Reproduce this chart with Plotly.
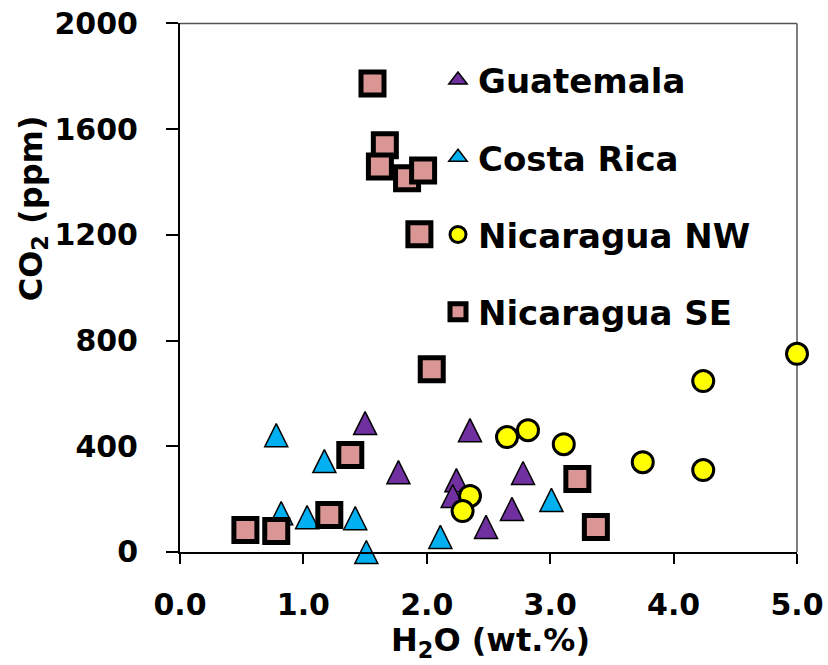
import plotly.graph_objects as go

# ---- data ----
gt_h2o = [1.50, 1.77, 2.35, 2.78, 2.24, 2.21, 2.69, 2.48]
gt_co2 = [488, 302, 461, 299, 272, 212, 163, 95]

cr_h2o = [0.78, 1.17, 0.82, 1.03, 1.42, 1.51, 2.11, 3.01]
cr_co2 = [442, 344, 147, 132, 128, 0, 57, 197]

nw_h2o = [2.65, 2.82, 3.11, 2.35, 2.29, 3.75, 4.24, 4.24, 5.00]
nw_co2 = [435, 461, 408, 212, 155, 340, 647, 310, 750]

se_h2o = [1.56, 1.66, 1.62, 1.84, 1.97, 1.94, 2.04, 1.38, 1.21, 0.53, 0.78, 3.22, 3.37]
se_co2 = [1773, 1539, 1459, 1414, 1444, 1202, 692, 367, 140, 83, 79, 276, 95]

x_ticks = [0, 1, 2, 3, 4, 5]
x_tick_labels = ["0.0", "1.0", "2.0", "3.0", "4.0", "5.0"]
y_ticks = [0, 400, 800, 1200, 1600, 2000]
y_tick_labels = ["0", "400", "800", "1200", "1600", "2000"]

# ---- styling ----
PURPLE = "#7030A0"
CYAN = "#00B0F0"
YELLOW = "#FFFF00"
PINK = "#D99694"
FONT = "DejaVu Sans"

TRI = 23                      # arrow-up marker size (apex at data point)
SHIFT = TRI / 2               # px shift so the triangle is centred on its value
TOP, BOTTOM, LEFT, RIGHT = 23, 113, 180, 31
W, H = 828, 665
plot_h = H - BOTTOM - (TOP - SHIFT)
plot_w = W - LEFT - RIGHT
d = SHIFT / plot_h

fig = go.Figure()

# triangles on a hidden, slightly raised copy of the y axis
fig.add_trace(go.Scatter(x=gt_h2o, y=gt_co2, mode="markers", name="Guatemala",
                         xaxis="x", yaxis="y", showlegend=False, cliponaxis=False,
                         marker=dict(symbol="arrow-up", size=TRI, color=PURPLE,
                                     line=dict(color="black", width=1.5))))
fig.add_trace(go.Scatter(x=cr_h2o, y=cr_co2, mode="markers", name="Costa Rica",
                         xaxis="x", yaxis="y", showlegend=False, cliponaxis=False,
                         marker=dict(symbol="arrow-up", size=TRI, color=CYAN,
                                     line=dict(color="black", width=1.5))))

fig.add_trace(go.Scatter(x=nw_h2o, y=nw_co2, mode="markers", name="Nicaragua NW",
                         xaxis="x", yaxis="y2", cliponaxis=False,
                         legendgroup="nw", legendrank=3,
                         marker=dict(symbol="circle", size=21, color=YELLOW,
                                     line=dict(color="black", width=3))))
fig.add_trace(go.Scatter(x=se_h2o, y=se_co2, mode="markers", name="Nicaragua SE",
                         xaxis="x", yaxis="y2", cliponaxis=False,
                         legendgroup="se", legendrank=4,
                         marker=dict(symbol="square", size=23, color=PINK,
                                     line=dict(color="black", width=5))))

# legend-only entries for the triangle series
fig.add_trace(go.Scatter(x=[None], y=[None], mode="markers", name="Guatemala",
                         xaxis="x", yaxis="y2", legendgroup="gt", legendrank=1,
                         marker=dict(symbol="triangle-up", size=16, color=PURPLE,
                                     line=dict(color="black", width=1.5))))
fig.add_trace(go.Scatter(x=[None], y=[None], mode="markers", name="Costa Rica",
                         xaxis="x", yaxis="y2", legendgroup="cr", legendrank=2,
                         marker=dict(symbol="triangle-up", size=16, color=CYAN,
                                     line=dict(color="black", width=1.5))))

tickfont = dict(family=FONT, size=30, color="black", weight="bold")

fig.update_layout(
    template="none",
    width=W, height=H,
    margin=dict(l=LEFT, r=RIGHT, t=TOP - SHIFT, b=BOTTOM, pad=0, autoexpand=False),
    paper_bgcolor="white", plot_bgcolor="rgba(0,0,0,0)",
    xaxis=dict(range=[0, 5], anchor="y2", tickvals=x_ticks, ticktext=x_tick_labels,
               automargin=False,
               showgrid=False, zeroline=False, showline=True, linecolor="black",
               linewidth=2, ticks="outside", ticklen=10, tickwidth=1.5,
               tickcolor="black", tickfont=tickfont, ticklabelstandoff=15,
               layer="below traces"),
    yaxis=dict(range=[0, 2000], domain=[d, 1], visible=False, anchor="x",
               automargin=False, showgrid=False, zeroline=False),
    yaxis2=dict(range=[0, 2000], domain=[0, 1 - d], anchor="x",
                automargin=False,
                tickvals=y_ticks, ticktext=y_tick_labels,
                showgrid=False, zeroline=False, showline=True, linecolor="black",
                linewidth=2, ticks="outside", ticklen=12, tickwidth=1.5,
                tickcolor="black", tickfont=tickfont, ticklabelstandoff=22,
                layer="below traces"),
    showlegend=True,
    legend=dict(x=(438 - LEFT) / plot_w, y=(H - BOTTOM - 51) / plot_h,
                xanchor="left", yanchor="top", bgcolor="rgba(0,0,0,0)",
                font=dict(family=FONT, size=34, color="black", weight="bold"),
                traceorder="grouped", tracegroupgap=30, itemsizing="trace"),
    annotations=[
        dict(text="H<sub>2</sub>O (wt.%)", xref="paper", yref="paper",
             x=(490 - LEFT) / plot_w, y=-(642 - (H - BOTTOM)) / plot_h,
             xanchor="center", yanchor="middle", showarrow=False,
             font=dict(family=FONT, size=32, color="black", weight="bold")),
        dict(text="CO<sub>2</sub> (ppm)", xref="paper", yref="paper",
             x=(33 - LEFT) / plot_w, y=((H - BOTTOM) - 208) / plot_h,
             xanchor="center", yanchor="middle", textangle=-90, showarrow=False,
             font=dict(family=FONT, size=32, color="black", weight="bold")),
    ],
    shapes=[
        dict(type="line", xref="x domain", yref="y2 domain", x0=0, x1=1, y0=1, y1=1,
             line=dict(color="#555555", width=1.5), layer="below"),
        dict(type="line", xref="x domain", yref="y2 domain", x0=1, x1=1, y0=0, y1=1,
             line=dict(color="#555555", width=1.5), layer="below"),
    ],
)

fig.write_html("out.html")
